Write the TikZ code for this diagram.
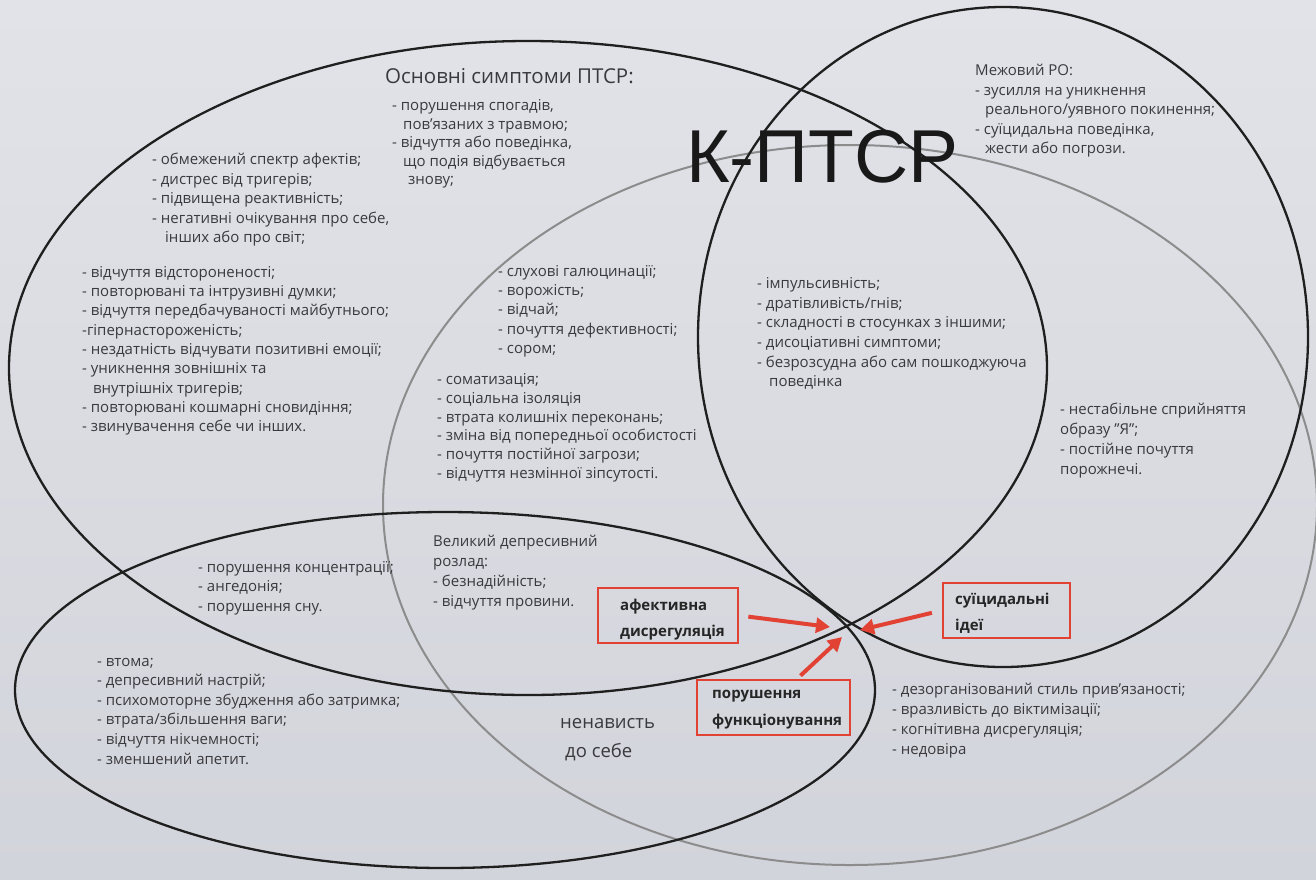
\documentclass[tikz,border=0pt]{standalone}
\usepackage{fontspec}
\setmainfont{Open Sans}
\newfontfamily\bigfont{Liberation Sans}
\usetikzlibrary{arrows.meta}
\definecolor{bgtop}{RGB}{226,227,232}
\definecolor{bgbot}{RGB}{210,212,219}
\definecolor{tc}{RGB}{58,58,62}
\definecolor{gl}{RGB}{140,140,140}
\definecolor{rd}{RGB}{226,66,52}
\begin{document}
\begin{tikzpicture}[x=1pt,y=-1pt,
  txt/.style={anchor=base west, inner sep=0pt, text=tc, font=\fontsize{15}{17}\selectfont},
  bl/.style={draw=black!88, line width=2.3pt},
  gr/.style={draw=gl, line width=2pt},
  rbox/.style={draw=rd, line width=2.8pt, rectangle, inner sep=0pt},
  rarrow/.style={draw=rd, line width=4pt, -{Triangle[length=14pt,width=15pt]}},
  btxt/.style={anchor=base west, inner sep=0pt, text=black!85, font=\fontsize{15}{17}\selectfont\bfseries},
  big/.style={anchor=base west, inner sep=0pt, text=tc, font=\fontsize{18.5}{20}\selectfont},
]
\shade[top color=bgtop, bottom color=bgbot] (0,0) rectangle (1316,879);
\useasboundingbox (0,0) rectangle (1316,879);

% ellipses
\draw[gr] (850,505) ellipse[x radius=467pt, y radius=360pt];
\draw[bl] (528,368) ellipse[x radius=519pt, y radius=327pt];
\draw[bl] (445,690) ellipse[x radius=430pt, y radius=178pt];
\draw[bl] (1003,337) ellipse[x radius=305pt, y radius=330pt];

% big title
\node[anchor=base west, inner sep=0pt, font=\bigfont\fontsize{75}{75}\selectfont, text=black!90] (kptsr) at (686,182) {К-ПТСР};

% PTSD title
\node[big, font=\fontsize{20.5}{22}\selectfont] (ptsdt) at (385,83) {Основні симптоми ПТСР:};

\foreach \t [count=\i] in {{- порушення спогадів,},{\hspace*{11pt}пов'язаних з травмою;},{- відчуття або поведінка,},{\hspace*{11pt}що подія відбувається},{\hspace*{16pt}знову;}}
  \node[txt] (ga\i) at (392,{92+18.5*\i}) {\t};

\foreach \t [count=\i] in {{- обмежений спектр афектів;},{- дистрес від тригерів;},{- підвищена реактивність;},{- негативні очікування про себе,},{\hspace*{13pt}інших або про світ;}}
  \node[txt] (gb\i) at (152,{145+19.5*\i}) {\t};

\foreach \t [count=\i] in {{- відчуття відстороненості;},{- повторювані та інтрузивні думки;},{- відчуття передбачуваності майбутнього;},{-гіпернастороженість;},{- нездатність відчувати позитивні емоції;},{- уникнення зовнішніх та},{\hspace*{11pt}внутрішніх тригерів;},{- повторювані кошмарні сновидіння;},{- звинувачення себе чи інших.}}
  \node[txt] (gc\i) at (82,{258+19.3*\i}) {\t};

\foreach \t [count=\i] in {{- слухові галюцинації;},{- ворожість;},{- відчай;},{- почуття дефективності;},{- сором;}}
  \node[txt] (gd\i) at (498,{257+19.25*\i}) {\t};

\foreach \t [count=\i] in {{- соматизація;},{- соціальна ізоляція},{- втрата колишніх переконань;},{- зміна від попередньої особистості},{- почуття постійної загрози;},{- відчуття незмінної зіпсутості.}}
  \node[txt] (ge\i) at (437,{366+18.7*\i}) {\t};

\foreach \t [count=\i] in {{- імпульсивність;},{- дратівливість/гнів;},{- складності в стосунках з іншими;},{- дисоціативні симптоми;},{- безрозсудна або сам пошкоджуюча},{\hspace*{12pt}поведінка}}
  \node[txt] (gf\i) at (757,{269+19.6*\i}) {\t};

\foreach \t [count=\i] in {{- нестабільне сприйняття},{образу "Я";},{- постійне почуття},{порожнечі.}}
  \node[txt] (gg\i) at (1060,{394+20*\i}) {\t};

\foreach \t [count=\i] in {{Межовий РО:},{- зусилля на уникнення},{\hspace*{10pt}реального/уявного покинення;},{- суїцидальна поведінка,},{\hspace*{10pt}жести або погрози.}}
  \node[txt] (gh\i) at (975,{56+19.5*\i}) {\t};

\foreach \t [count=\i] in {{- порушення концентрації;},{- ангедонія;},{- порушення сну.}}
  \node[txt] (gi\i) at (198,{552.5+19.5*\i}) {\t};

\foreach \t [count=\i] in {{Великий депресивний},{розлад:},{- безнадійність;},{- відчуття провини.}}
  \node[txt] (gj\i) at (433,{526+20*\i}) {\t};

\foreach \t [count=\i] in {{- втома;},{- депресивний настрій;},{- психомоторне збудження або затримка;},{- втрата/збільшення ваги;},{- відчуття нікчемності;},{- зменшений апетит.}}
  \node[txt] (gk\i) at (97,{646.4+19.6*\i}) {\t};

\foreach \t [count=\i] in {{- дезорганізований стиль прив'язаності;},{- вразливість до віктимізації;},{- когнітивна дисрегуляція;},{- недовіра}}
  \node[txt] (gl\i) at (892,{674+20*\i}) {\t};

\node[big] (hate1) at (560,728) {ненависть};
\node[big] (hate2) at (565,757) {до себе};

% red boxes
\node[rbox, minimum width=140pt, minimum height=55pt] (b1) at (668,615.5) {};
\node[btxt] (b1a) at (620,610) {афективна};
\node[btxt] (b1b) at (620,636) {дисрегуляція};

\node[rbox, minimum width=127pt, minimum height=55pt] (b2) at (1006.5,610.5) {};
\node[btxt] (b2a) at (955,604) {суїцидальні};
\node[btxt] (b2b) at (955,630) {ідеї};

\node[rbox, minimum width=153pt, minimum height=55pt] (b3) at (773.5,707.5) {};
\node[btxt] (b3a) at (712,698) {порушення};
\node[btxt] (b3b) at (712,725) {функціонування};

\coordinate (t1) at (830,627);
\coordinate (t2) at (860,630);
\coordinate (t3) at (842,637);
\draw[rarrow, shorten <=9pt] (b1.east) -- (t1);
\draw[rarrow, shorten <=10pt] (b2.west) -- (t2);
\draw[rarrow] ([xshift=27pt,yshift=3pt]b3.north) -- (t3);
\end{tikzpicture}
\end{document}
